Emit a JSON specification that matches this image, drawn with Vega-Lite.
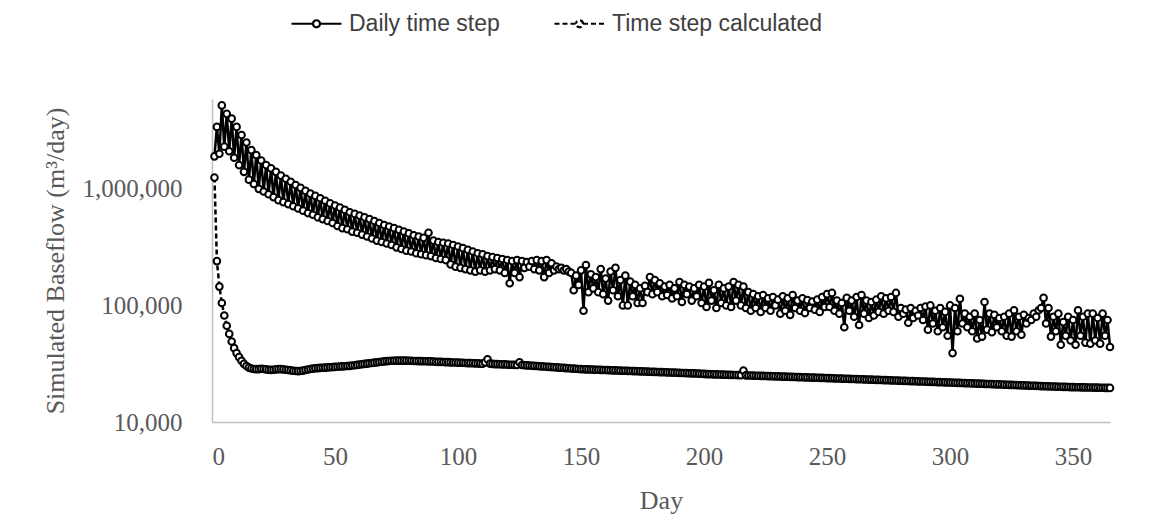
{
"$schema": "https://vega.github.io/schema/vega-lite/v6.json",
"width": 898, "height": 323,
"autosize": "none",
"padding": {"left": 212, "top": 99, "right": 47, "bottom": 109},
"background": "white",
"config": {"view": {"stroke": null}},
"data": {"values": [
{"d":1,"a":1900000,"b":1250000},{"d":2,"a":3400000,"b":240000},{"d":3,"a":2000000,"b":145000},{"d":4,"a":5200000,"b":105000},{"d":5,"a":2300000,"b":82000},
{"d":6,"a":4400000,"b":67000},{"d":7,"a":2100000,"b":57000},{"d":8,"a":4000000,"b":49000},{"d":9,"a":1850000,"b":43000},{"d":10,"a":3400000,"b":39000},
{"d":11,"a":1600000,"b":36000},{"d":12,"a":2900000,"b":33500},{"d":13,"a":1400000,"b":31500},{"d":14,"a":2500000,"b":30200},{"d":15,"a":1200000,"b":29300},
{"d":16,"a":2150000,"b":28800},{"d":17,"a":1100000,"b":28500},{"d":18,"a":1950000,"b":28400},{"d":19,"a":1000000,"b":28400},{"d":20,"a":1750000,"b":28600},
{"d":21,"a":950000,"b":28500},{"d":22,"a":1600000,"b":28300},{"d":23,"a":900000,"b":28100},{"d":24,"a":1500000,"b":28000},{"d":25,"a":850000,"b":28100},
{"d":26,"a":1400000,"b":28300},{"d":27,"a":800000,"b":28400},{"d":28,"a":1300000,"b":28400},{"d":29,"a":770000,"b":28300},{"d":30,"a":1220000,"b":28100},
{"d":31,"a":740000,"b":27900},{"d":32,"a":1150000,"b":27700},{"d":33,"a":710000,"b":27500},{"d":34,"a":1080000,"b":27400},{"d":35,"a":680000,"b":27300},
{"d":36,"a":1020000,"b":27400},{"d":37,"a":650000,"b":27600},{"d":38,"a":960000,"b":27900},{"d":39,"a":620000,"b":28200},{"d":40,"a":910000,"b":28500},
{"d":41,"a":600000,"b":28700},{"d":42,"a":870000,"b":28900},{"d":43,"a":570000,"b":29000},{"d":44,"a":830000,"b":29100},{"d":45,"a":550000,"b":29200},
{"d":46,"a":790000,"b":29300},{"d":47,"a":530000,"b":29400},{"d":48,"a":750000,"b":29500},{"d":49,"a":510000,"b":29600},{"d":50,"a":720000,"b":29700},
{"d":51,"a":480000,"b":29800},{"d":52,"a":690000,"b":29900},{"d":53,"a":460000,"b":30000},{"d":54,"a":660000,"b":30100},{"d":55,"a":450000,"b":30200},
{"d":56,"a":630000,"b":30300},{"d":57,"a":430000,"b":30500},{"d":58,"a":610000,"b":30700},{"d":59,"a":420000,"b":30900},{"d":60,"a":590000,"b":31100},
{"d":61,"a":405000,"b":31300},{"d":62,"a":570000,"b":31500},{"d":63,"a":390000,"b":31700},{"d":64,"a":550000,"b":31900},{"d":65,"a":375000,"b":32100},
{"d":66,"a":530000,"b":32300},{"d":67,"a":360000,"b":32500},{"d":68,"a":510000,"b":32700},{"d":69,"a":350000,"b":32900},{"d":70,"a":490000,"b":33100},
{"d":71,"a":340000,"b":33300},{"d":72,"a":475000,"b":33400},{"d":73,"a":330000,"b":33500},{"d":74,"a":460000,"b":33500},{"d":75,"a":315000,"b":33600},
{"d":76,"a":445000,"b":33600},{"d":77,"a":305000,"b":33600},{"d":78,"a":430000,"b":33600},{"d":79,"a":295000,"b":33600},{"d":80,"a":415000,"b":33500},
{"d":81,"a":290000,"b":33500},{"d":82,"a":400000,"b":33400},{"d":83,"a":280000,"b":33400},{"d":84,"a":390000,"b":33300},{"d":85,"a":275000,"b":33300},
{"d":86,"a":380000,"b":33200},{"d":87,"a":270000,"b":33200},{"d":88,"a":420000,"b":33100},{"d":89,"a":265000,"b":33100},{"d":90,"a":360000,"b":33000},
{"d":91,"a":255000,"b":32900},{"d":92,"a":350000,"b":32800},{"d":93,"a":250000,"b":32800},{"d":94,"a":345000,"b":32700},{"d":95,"a":245000,"b":32600},
{"d":96,"a":340000,"b":32600},{"d":97,"a":225000,"b":32500},{"d":98,"a":330000,"b":32400},{"d":99,"a":215000,"b":32400},{"d":100,"a":320000,"b":32300},
{"d":101,"a":210000,"b":32200},{"d":102,"a":310000,"b":32200},{"d":103,"a":205000,"b":32100},{"d":104,"a":300000,"b":32000},{"d":105,"a":200000,"b":32000},
{"d":106,"a":290000,"b":31900},{"d":107,"a":195000,"b":31800},{"d":108,"a":280000,"b":31800},{"d":109,"a":200000,"b":31700},{"d":110,"a":275000,"b":31600},
{"d":111,"a":195000,"b":32500},{"d":112,"a":265000,"b":34500},{"d":113,"a":200000,"b":31700},{"d":114,"a":260000,"b":31500},{"d":115,"a":205000,"b":31400},
{"d":116,"a":255000,"b":31400},{"d":117,"a":200000,"b":31300},{"d":118,"a":250000,"b":31200},{"d":119,"a":190000,"b":31200},{"d":120,"a":245000,"b":31100},
{"d":121,"a":155000,"b":31000},{"d":122,"a":240000,"b":31000},{"d":123,"a":190000,"b":30900},{"d":124,"a":245000,"b":30800},{"d":125,"a":175000,"b":32500},
{"d":126,"a":240000,"b":30800},{"d":127,"a":210000,"b":30700},{"d":128,"a":235000,"b":30600},{"d":129,"a":215000,"b":30500},{"d":130,"a":240000,"b":30400},
{"d":131,"a":205000,"b":30300},{"d":132,"a":245000,"b":30200},{"d":133,"a":200000,"b":30100},{"d":134,"a":240000,"b":30000},{"d":135,"a":175000,"b":29900},
{"d":136,"a":245000,"b":29800},{"d":137,"a":190000,"b":29700},{"d":138,"a":230000,"b":29600},{"d":139,"a":200000,"b":29500},{"d":140,"a":215000,"b":29400},
{"d":141,"a":205000,"b":29300},{"d":142,"a":210000,"b":29200},{"d":143,"a":200000,"b":29100},{"d":144,"a":205000,"b":29000},{"d":145,"a":195000,"b":28900},
{"d":146,"a":190000,"b":28800},{"d":147,"a":135000,"b":28700},{"d":148,"a":180000,"b":28600},{"d":149,"a":150000,"b":28500},{"d":150,"a":200000,"b":28400},
{"d":151,"a":90000,"b":28350},{"d":152,"a":222000,"b":28300},{"d":153,"a":130000,"b":28250},{"d":154,"a":185000,"b":28200},{"d":155,"a":140000,"b":28150},
{"d":156,"a":175000,"b":28100},{"d":157,"a":130000,"b":28050},{"d":158,"a":205000,"b":28000},{"d":159,"a":125000,"b":27950},{"d":160,"a":170000,"b":27900},
{"d":161,"a":110000,"b":27850},{"d":162,"a":195000,"b":27800},{"d":163,"a":135000,"b":27750},{"d":164,"a":210000,"b":27700},{"d":165,"a":120000,"b":27650},
{"d":166,"a":165000,"b":27600},{"d":167,"a":100000,"b":27550},{"d":168,"a":180000,"b":27500},{"d":169,"a":100000,"b":27450},{"d":170,"a":160000,"b":27400},
{"d":171,"a":120000,"b":27350},{"d":172,"a":150000,"b":27300},{"d":173,"a":105000,"b":27250},{"d":174,"a":140000,"b":27200},{"d":175,"a":105000,"b":27150},
{"d":176,"a":147000,"b":27100},{"d":177,"a":130000,"b":27050},{"d":178,"a":175000,"b":27000},{"d":179,"a":125000,"b":26950},{"d":180,"a":165000,"b":26900},
{"d":181,"a":130000,"b":26850},{"d":182,"a":155000,"b":26800},{"d":183,"a":120000,"b":26750},{"d":184,"a":145000,"b":26700},{"d":185,"a":123000,"b":26650},
{"d":186,"a":150000,"b":26600},{"d":187,"a":115000,"b":26550},{"d":188,"a":140000,"b":26500},{"d":189,"a":120000,"b":26450},{"d":190,"a":159000,"b":26400},
{"d":191,"a":107000,"b":26350},{"d":192,"a":150000,"b":26300},{"d":193,"a":125000,"b":26250},{"d":194,"a":145000,"b":26200},{"d":195,"a":110000,"b":26150},
{"d":196,"a":140000,"b":26100},{"d":197,"a":120000,"b":26050},{"d":198,"a":150000,"b":26000},{"d":199,"a":105000,"b":25950},{"d":200,"a":145000,"b":25850},
{"d":201,"a":97000,"b":25760},{"d":202,"a":156000,"b":25720},{"d":203,"a":110000,"b":25680},{"d":204,"a":135000,"b":25640},{"d":205,"a":95000,"b":25600},
{"d":206,"a":150000,"b":25560},{"d":207,"a":105000,"b":25520},{"d":208,"a":140000,"b":25480},{"d":209,"a":100000,"b":25440},{"d":210,"a":145000,"b":25400},
{"d":211,"a":97000,"b":25360},{"d":212,"a":159000,"b":25320},{"d":213,"a":110000,"b":25280},{"d":214,"a":150000,"b":25240},{"d":215,"a":100000,"b":25200},
{"d":216,"a":145000,"b":27600},{"d":217,"a":95000,"b":25120},{"d":218,"a":130000,"b":25080},{"d":219,"a":90000,"b":25040},{"d":220,"a":125000,"b":25000},
{"d":221,"a":95000,"b":24960},{"d":222,"a":120000,"b":24920},{"d":223,"a":88000,"b":24880},{"d":224,"a":123000,"b":24840},{"d":225,"a":95000,"b":24800},
{"d":226,"a":115000,"b":24760},{"d":227,"a":90000,"b":24720},{"d":228,"a":118000,"b":24680},{"d":229,"a":100000,"b":24640},{"d":230,"a":112000,"b":24600},
{"d":231,"a":85000,"b":24560},{"d":232,"a":120000,"b":24520},{"d":233,"a":90000,"b":24480},{"d":234,"a":115000,"b":24440},{"d":235,"a":83000,"b":24400},
{"d":236,"a":123000,"b":24360},{"d":237,"a":95000,"b":24320},{"d":238,"a":110000,"b":24280},{"d":239,"a":90000,"b":24240},{"d":240,"a":115000,"b":24200},
{"d":241,"a":86000,"b":24160},{"d":242,"a":111000,"b":24120},{"d":243,"a":95000,"b":24080},{"d":244,"a":108000,"b":24040},{"d":245,"a":92000,"b":24000},
{"d":246,"a":112000,"b":23960},{"d":247,"a":88000,"b":23920},{"d":248,"a":118000,"b":23880},{"d":249,"a":97000,"b":23840},{"d":250,"a":125000,"b":23800},
{"d":251,"a":97000,"b":23760},{"d":252,"a":128000,"b":23720},{"d":253,"a":90000,"b":23680},{"d":254,"a":110000,"b":23640},{"d":255,"a":85000,"b":23600},
{"d":256,"a":105000,"b":23560},{"d":257,"a":65000,"b":23520},{"d":258,"a":116000,"b":23480},{"d":259,"a":90000,"b":23440},{"d":260,"a":110000,"b":23400},
{"d":261,"a":80000,"b":23360},{"d":262,"a":118000,"b":23320},{"d":263,"a":68000,"b":23280},{"d":264,"a":123000,"b":23240},{"d":265,"a":85000,"b":23200},
{"d":266,"a":110000,"b":23160},{"d":267,"a":78000,"b":23120},{"d":268,"a":107000,"b":23080},{"d":269,"a":82000,"b":23040},{"d":270,"a":112000,"b":23000},
{"d":271,"a":88000,"b":22960},{"d":272,"a":120000,"b":22920},{"d":273,"a":85000,"b":22880},{"d":274,"a":115000,"b":22840},{"d":275,"a":90000,"b":22800},
{"d":276,"a":118000,"b":22760},{"d":277,"a":88000,"b":22720},{"d":278,"a":128000,"b":22680},{"d":279,"a":80000,"b":22640},{"d":280,"a":95000,"b":22600},
{"d":281,"a":85000,"b":22560},{"d":282,"a":92000,"b":22520},{"d":283,"a":71000,"b":22480},{"d":284,"a":95000,"b":22440},{"d":285,"a":78000,"b":22400},
{"d":286,"a":90000,"b":22360},{"d":287,"a":82000,"b":22320},{"d":288,"a":95000,"b":22280},{"d":289,"a":75000,"b":22240},{"d":290,"a":98000,"b":22200},
{"d":291,"a":62000,"b":22160},{"d":292,"a":100000,"b":22120},{"d":293,"a":70000,"b":22080},{"d":294,"a":90000,"b":22040},{"d":295,"a":60000,"b":22000},
{"d":296,"a":95000,"b":21960},{"d":297,"a":65000,"b":21920},{"d":298,"a":88000,"b":21880},{"d":299,"a":55000,"b":21840},{"d":300,"a":100000,"b":21800},
{"d":301,"a":39000,"b":21760},{"d":302,"a":95000,"b":21720},{"d":303,"a":60000,"b":21680},{"d":304,"a":114000,"b":21640},{"d":305,"a":70000,"b":21600},
{"d":306,"a":85000,"b":21560},{"d":307,"a":65000,"b":21520},{"d":308,"a":80000,"b":21480},{"d":309,"a":60000,"b":21440},{"d":310,"a":85000,"b":21400},
{"d":311,"a":52000,"b":21360},{"d":312,"a":75000,"b":21320},{"d":313,"a":54000,"b":21280},{"d":314,"a":107000,"b":21240},{"d":315,"a":62000,"b":21200},
{"d":316,"a":85000,"b":21160},{"d":317,"a":59000,"b":21120},{"d":318,"a":83000,"b":21080},{"d":319,"a":65000,"b":21040},{"d":320,"a":78000,"b":21000},
{"d":321,"a":60000,"b":20960},{"d":322,"a":80000,"b":20920},{"d":323,"a":55000,"b":20880},{"d":324,"a":85000,"b":20840},{"d":325,"a":54000,"b":20800},
{"d":326,"a":91000,"b":20760},{"d":327,"a":60000,"b":20720},{"d":328,"a":80000,"b":20680},{"d":329,"a":56000,"b":20640},{"d":330,"a":83000,"b":20600},
{"d":331,"a":70000,"b":20560},{"d":332,"a":78000,"b":20520},{"d":333,"a":75000,"b":20480},{"d":334,"a":85000,"b":20440},{"d":335,"a":80000,"b":20400},
{"d":336,"a":91000,"b":20360},{"d":337,"a":95000,"b":20320},{"d":338,"a":116000,"b":20280},{"d":339,"a":70000,"b":20240},{"d":340,"a":95000,"b":20200},
{"d":341,"a":54000,"b":20170},{"d":342,"a":80000,"b":20140},{"d":343,"a":60000,"b":20110},{"d":344,"a":85000,"b":20080},{"d":345,"a":46000,"b":20050},
{"d":346,"a":72000,"b":20020},{"d":347,"a":55000,"b":19990},{"d":348,"a":80000,"b":19960},{"d":349,"a":50000,"b":19930},{"d":350,"a":75000,"b":19900},
{"d":351,"a":46000,"b":19880},{"d":352,"a":91000,"b":19860},{"d":353,"a":55000,"b":19840},{"d":354,"a":80000,"b":19820},{"d":355,"a":48000,"b":19800},
{"d":356,"a":85000,"b":19780},{"d":357,"a":47000,"b":19760},{"d":358,"a":85000,"b":19740},{"d":359,"a":50000,"b":19720},{"d":360,"a":78000,"b":19700},
{"d":361,"a":47000,"b":19680},{"d":362,"a":85000,"b":19660},{"d":363,"a":55000,"b":19640},{"d":364,"a":75000,"b":19620},{"d":365,"a":44000,"b":19600}
]},
"transform": [{"fold": ["a", "b"], "as": ["s", "v"]}],
"encoding": {
  "x": {"field": "d", "type": "quantitative",
    "scale": {"domain": [0, 365], "nice": false, "zero": false},
    "axis": {"values": [0, 50, 100, 150, 200, 250, 300, 350], "title": "Day", "grid": false, "ticks": false,
      "domainColor": "#bfbfbf", "domainWidth": 1.5, "labelFont": "Liberation Serif", "labelFontSize": 25, "labelColor": "#595959",
      "labelPadding": 22, "titleFont": "Liberation Serif", "titleFontSize": 26, "titleFontWeight": "normal", "titleColor": "#595959", "titlePadding": 18}},
  "y": {"field": "v", "type": "quantitative",
    "scale": {"type": "log", "domain": [10000, 5900000], "nice": false},
    "axis": {"values": [10000, 100000, 1000000], "format": ",", "title": "Simulated Baseflow (m³/day)", "grid": false, "ticks": false,
      "domainColor": "#bfbfbf", "domainWidth": 1.5, "labelFont": "Liberation Serif", "labelFontSize": 25, "labelColor": "#595959",
      "labelPadding": 30, "titleFont": "Liberation Serif", "titleFontSize": 26, "titleFontWeight": "normal", "titleColor": "#595959", "titlePadding": 14}}
},
"layer": [
  {"mark": {"type": "line", "color": "black", "strokeWidth": 2.5},
   "encoding": {"strokeDash": {"field": "s", "type": "nominal",
     "scale": {"domain": ["a", "b"], "range": [[1, 0], [5, 3]]},
     "legend": {"orient": "none", "direction": "horizontal", "legendX": 78, "legendY": -102, "title": null,
       "labelExpr": "datum.value == 'a' ? 'Daily time step' : 'Time step calculated'", "labelLimit": 0,
       "symbolType": "M -1 0 L -0.14 0 A 0.14 0.14 0 1 0 0.14 0 A 0.14 0.14 0 1 0 -0.14 0 M 0.14 0 L 1 0",
       "symbolSize": 2500, "symbolStrokeWidth": 2.2, "symbolStrokeColor": "black", "symbolFillColor": "white",
       "labelFont": "Liberation Sans", "labelFontSize": 23, "labelColor": "#404040", "labelOffset": 6, "columnPadding": 50}}}},
  {"mark": {"type": "point", "shape": "circle", "filled": false, "fill": "white", "fillOpacity": 1, "stroke": "black", "strokeWidth": 2, "size": 44, "opacity": 1},
   "encoding": {"detail": {"field": "s", "type": "nominal"}}}
]
}
